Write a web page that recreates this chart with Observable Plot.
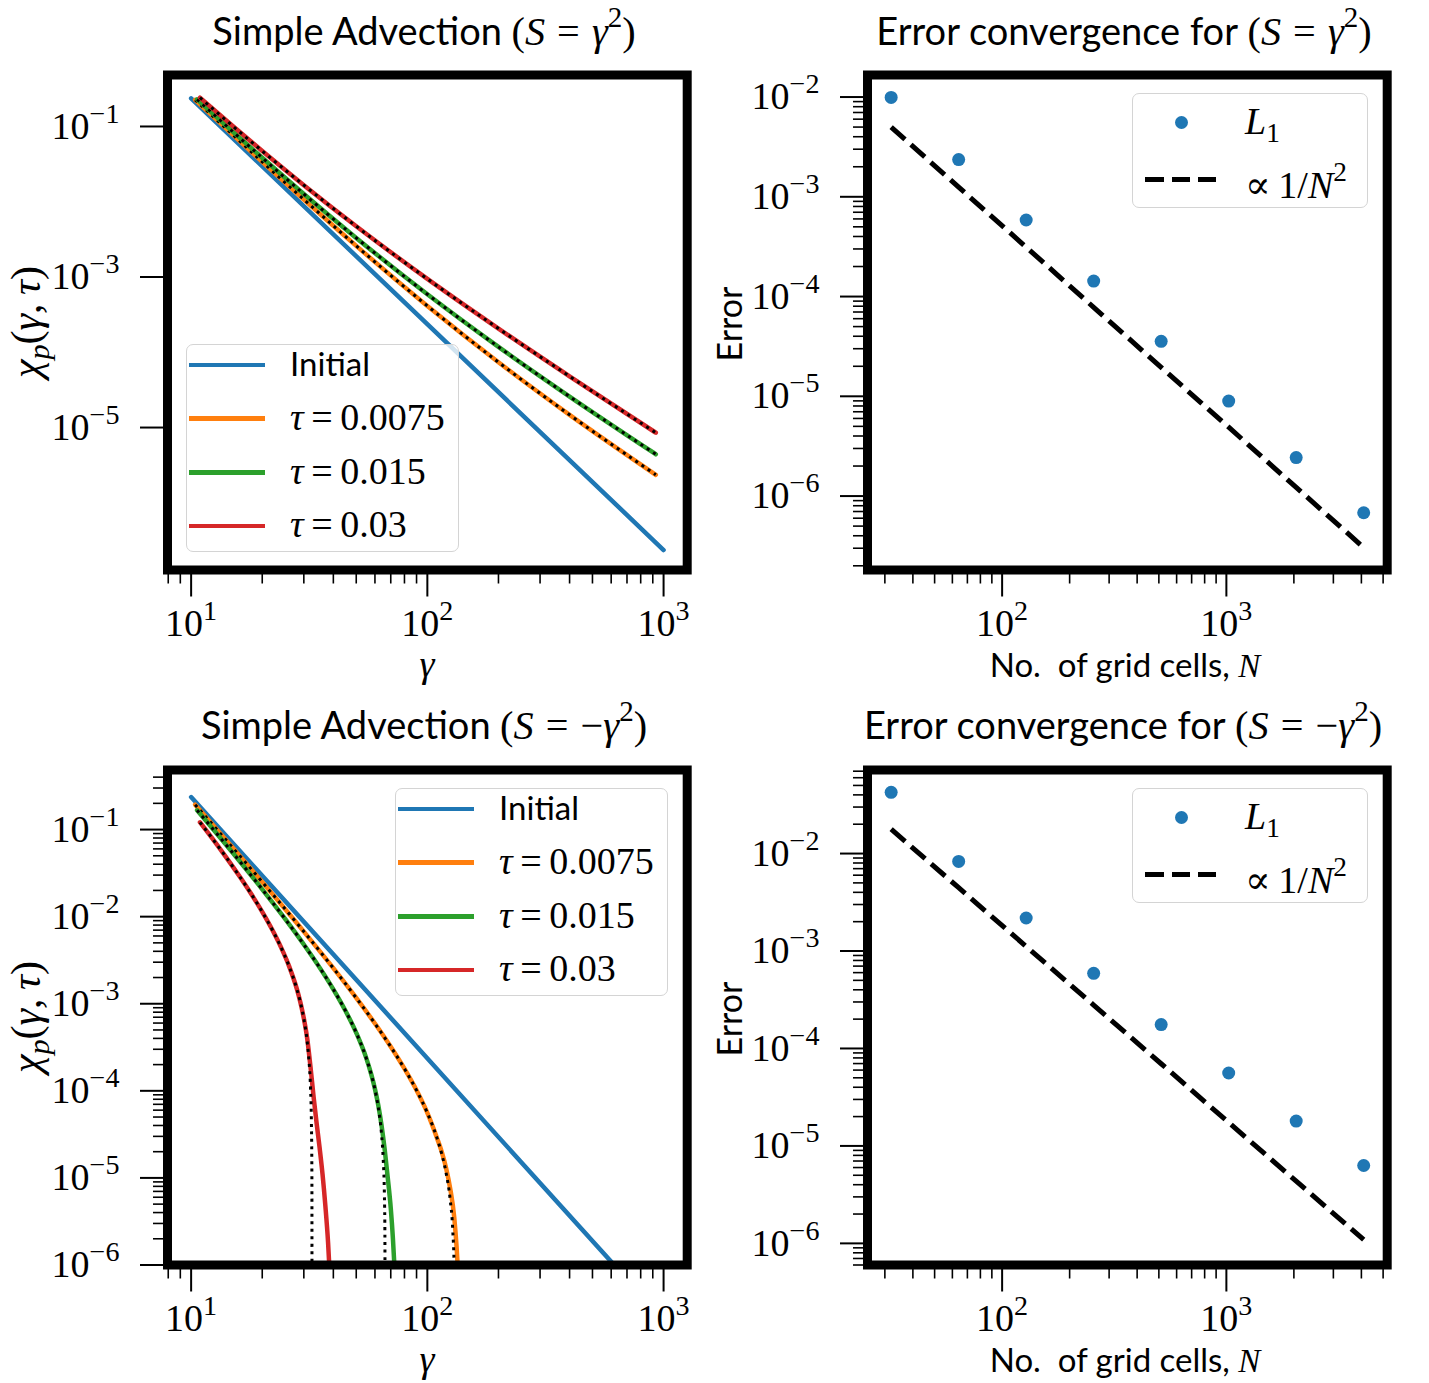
<!DOCTYPE html>
<html><head><meta charset="utf-8">
<script src="https://cdn.jsdelivr.net/npm/d3@7"></script>
<script src="https://cdn.jsdelivr.net/npm/@observablehq/plot@0.6"></script>
<style>
body{margin:0;background:#fff}
#fig{position:relative;width:1429px;height:1383px;background:#fff;overflow:hidden;font-family:"Liberation Serif","DejaVu Serif",serif;color:#000}
#fig svg{position:absolute}
.t{position:absolute;white-space:nowrap;line-height:1}
.sf{font-family:Lato,"Liberation Sans",sans-serif}
.rm{font-family:"Liberation Serif","DejaVu Serif",serif}
.leg{position:absolute;border:1.5px solid #d4d4d4;border-radius:7px;background:rgba(255,255,255,0.8);box-sizing:border-box}
.sup{font-size:0.72em;vertical-align:0.62em}
.sub{font-size:0.72em;vertical-align:-0.3em}
.eq{padding:0 0.3em}
.eqs{padding:0 0.2em}
</style></head><body><div id="fig"></div><script>
// ---------------- data ----------------
const colors = ["#1f77b4", "#ff7f0e", "#2ca02c", "#d62728"];
const tauLabels = ["0.0075", "0.015", "0.03"];

// Top-left: S = gamma^2
const tlInitG = [10, 1000];
const tlInitV = [0.236, 2.36e-7];
const tlOrangeG = [10.4, 15, 20, 30, 50, 100, 200, 400, 927];
const tlOrangeV = [0.2262, 0.0778, 0.0339, 0.01071, 0.002596, 4.13e-4, 7.375e-5, 1.475e-5, 2.356e-6];
const tlGreenG = [10.6, 15, 20, 30, 50, 100, 200, 400, 927];
const tlGreenV = [0.2297, 0.08566, 0.03835, 0.01267, 0.003304, 5.9e-4, 1.18e-4, 2.581e-5, 4.416e-6];
const tlRedG = [10.9, 15, 20, 30, 50, 100, 200, 400, 927];
const tlRedV = [0.2418, 0.1014, 0.0472, 0.01661, 0.00472, 9.44e-4, 2.065e-4, 4.794e-5, 8.536e-6];

// Bottom-left: S = -gamma^2
const blInitG = [10, 1000];
const blInitV = [0.236, 2.36e-7];
// analytic (dotted)
const blRedDotG = [10.9, 12, 14, 16, 18, 20, 22, 24, 26, 28, 29, 30, 31, 31.5, 32, 32.3, 32.45, 32.5];
const blRedDotV = [0.1211, 0.0862, 0.04895, 0.02925, 0.01806, 0.01135, 0.00716, 0.004465, 0.002686, 0.001489, 0.001042, 6.72e-4, 3.66e-4, 2.32e-4, 1.108e-4, 4.31e-5, 1.06e-5, 1e-8];
const blGreenDotG = [10.6, 12, 15, 20, 25, 30, 35, 40, 45, 50, 55, 58, 60, 62, 64, 65, 65.8, 66.1, 66.3];
const blGreenDotV = [0.1665, 0.1119, 0.0541, 0.0206, 0.009409, 0.004786, 0.002598, 0.001463, 8.32e-4, 4.64e-4, 2.42e-4, 1.514e-4, 1.038e-4, 6.42e-5, 3.12e-5, 1.685e-5, 6.25e-6, 2.47e-6, 1e-8];
const blOrangeDotG = [10.4, 12, 15, 20, 30, 40, 50, 60, 70, 80, 90, 100, 110, 115, 120, 125, 128, 130, 131];
const blOrangeDotV = [0.1931, 0.1241, 0.06192, 0.025, 0.00674, 0.002562, 0.001167, 5.92e-4, 3.204e-4, 1.794e-4, 1.013e-4, 5.584e-5, 2.842e-5, 1.895e-5, 1.147e-5, 5.53e-6, 2.58e-6, 8.2e-7, 1e-8];
// numerical (solid)
const blRedG = [10.9, 12, 14, 16, 18, 20, 22, 24, 26, 28, 29, 30, 31, 32, 33, 34, 35, 36, 37, 38, 38.6];
const blRedV = [0.1211, 0.0862, 0.04895, 0.02925, 0.01806, 0.01135, 0.00716, 0.004465, 0.002686, 0.001489, 0.001042, 6.8e-4, 4.0e-4, 1.9e-4, 8.5e-5, 4.2e-5, 2.2e-5, 1.1e-5, 4.8e-6, 1.8e-6, 8e-7];
const blGreenG = [10.6, 12, 15, 20, 25, 30, 35, 40, 45, 50, 55, 58, 60, 62, 64, 66, 68, 70, 71.5, 72.5, 73.2];
const blGreenV = [0.1665, 0.1119, 0.0541, 0.0206, 0.009409, 0.004786, 0.002598, 0.001463, 8.32e-4, 4.64e-4, 2.42e-4, 1.514e-4, 1.05e-4, 6.8e-5, 4.0e-5, 2.1e-5, 1.0e-5, 4.5e-6, 2.0e-6, 1.0e-6, 6e-7];
const blOrangeG = [10.4, 12, 15, 20, 30, 40, 50, 60, 70, 80, 90, 100, 110, 115, 120, 125, 130, 133, 135];
const blOrangeV = [0.1931, 0.1241, 0.06192, 0.025, 0.00674, 0.002562, 0.001167, 5.92e-4, 3.204e-4, 1.794e-4, 1.013e-4, 5.584e-5, 2.842e-5, 2.0e-5, 1.3e-5, 7.5e-6, 3.5e-6, 1.6e-6, 8e-7];

// Right: error convergence
const gridN = [32, 64, 128, 256, 512, 1024, 2048, 4096];
const trErr = [9.9e-3, 2.36e-3, 5.85e-4, 1.43e-4, 3.56e-5, 8.95e-6, 2.43e-6, 6.8e-7];
const trRef = [5.0e-3, 1.25e-3, 3.13e-4, 7.8e-5, 1.95e-5, 4.9e-6, 1.22e-6, 3.05e-7];
const brErr = [0.0425, 8.3e-3, 2.18e-3, 5.9e-4, 1.76e-4, 5.6e-5, 1.8e-5, 6.3e-6];
const brRef = [1.78e-2, 4.46e-3, 1.115e-3, 2.79e-4, 6.97e-5, 1.74e-5, 4.35e-6, 1.09e-6];

// ticks
const gammaTicks = [10, 100, 1000];
const gammaMinor = [8, 9, 20, 30, 40, 50, 60, 70, 80, 90, 200, 300, 400, 500, 600, 700, 800, 900];
const nTicks = [100, 1000];
const nMinor = [30, 40, 50, 60, 70, 80, 90, 200, 300, 400, 500, 600, 700, 800, 900, 2000, 3000, 4000, 5000];
const tlYTicks = [1e-1, 1e-3, 1e-5];
const decadeTicks = [1e-1, 1e-2, 1e-3, 1e-4, 1e-5, 1e-6];
const errYTicks = [1e-2, 1e-3, 1e-4, 1e-5, 1e-6];
const minorMult = [2, 3, 4, 5, 6, 7, 8, 9];
const minorDecades = [1e-7, 1e-6, 1e-5, 1e-4, 1e-3, 1e-2, 1e-1];

// ---------------- helpers ----------------
const fig = document.getElementById("fig");
const rows = (xs, ys) => xs.map((x, i) => ({x, y: ys[i]}));
const minorAll = minorDecades.flatMap(d => minorMult.map(m => +(m * d).toPrecision(3)));
const fmt = d => "10^" + Math.round(Math.log10(d));
const ns = "http://www.w3.org/2000/svg";

function supTicks(svg) {
  svg.querySelectorAll('g[aria-label$="tick label"] text').forEach(t => {
    const m = (t.textContent || "").match(/^10\^(.*)$/);
    if (!m) return;
    t.textContent = "";
    const a = document.createElementNS(ns, "tspan");
    a.textContent = "10";
    t.appendChild(a);
    const b = document.createElementNS(ns, "tspan");
    b.setAttribute("dy", "-0.57em");
    b.setAttribute("font-size", "0.74em");
    b.textContent = m[1].replace("-", "\u2212");
    t.appendChild(b);
  });
}

function panel({left, top, width, height, mL, mR, mT, mB, xDomain, yDomain, xMaj, xMin, yMaj, yMin, marks}) {
  const inX = v => v >= xDomain[0] && v <= xDomain[1];
  const inY = v => v >= yDomain[0] * 0.999 && v <= yDomain[1];
  const axes = [
    Plot.axisX({ticks: xMaj.filter(inX), tickSize: 27, tickPadding: 12, strokeWidth: 2, tickFormat: fmt, label: null}),
    Plot.axisX({ticks: xMin.filter(inX), tickSize: 14, strokeWidth: 1.6, tickFormat: () => "", label: null}),
    Plot.axisY({ticks: yMaj.filter(inY), tickSize: 27, tickPadding: 21, strokeWidth: 2, tickFormat: fmt, label: null})
  ];
  const ym = yMin.filter(inY);
  if (ym.length) axes.push(Plot.axisY({ticks: ym, tickSize: 14, strokeWidth: 1.6, tickFormat: () => "", label: null}));
  const svg = Plot.plot({
    width, height, marginLeft: mL, marginRight: mR, marginTop: mT, marginBottom: mB,
    x: {type: "log", domain: xDomain, label: null},
    y: {type: "log", domain: yDomain, label: null},
    style: {fontFamily: '"Liberation Serif", serif', fontSize: "38px", background: "transparent", overflow: "visible", color: "black"},
    marks: [...marks, Plot.frame({stroke: "black", strokeWidth: 9}), ...axes]
  });
  svg.style.left = left + "px";
  svg.style.top = top + "px";
  supTicks(svg);
  fig.appendChild(svg);
}

const solid = (xs, ys, c) => Plot.line(rows(xs, ys), {x: "x", y: "y", stroke: c, strokeWidth: 4.5, curve: "monotone-x", clip: true});
const dotted = (xs, ys) => Plot.line(rows(xs, ys), {x: "x", y: "y", stroke: "black", strokeWidth: 3, strokeDasharray: "3,4.5", strokeLinecap: "butt", curve: "monotone-x", clip: true});

const gDom = [7.943, 1258.9];
const nDom = [25.1, 5214];

// top-left
panel({left: 0, top: 0, width: 715, height: 695, mL: 167, mR: 28.3, mT: 74.5, mB: 125.5,
  xDomain: gDom, yDomain: [1.28e-7, 0.483], xMaj: gammaTicks, xMin: gammaMinor, yMaj: tlYTicks, yMin: [],
  marks: [
    solid(tlInitG, tlInitV, colors[0]),
    solid(tlOrangeG, tlOrangeV, colors[1]), dotted(tlOrangeG, tlOrangeV),
    solid(tlGreenG, tlGreenV, colors[2]), dotted(tlGreenG, tlGreenV),
    solid(tlRedG, tlRedV, colors[3]), dotted(tlRedG, tlRedV)
  ]});

// bottom-left
panel({left: 0, top: 695, width: 715, height: 688, mL: 167, mR: 28.3, mT: 74.5, mB: 118.5,
  xDomain: gDom, yDomain: [1e-6, 0.483], xMaj: gammaTicks, xMin: gammaMinor, yMaj: decadeTicks, yMin: minorAll,
  marks: [
    solid(blInitG, blInitV, colors[0]),
    solid(blOrangeG, blOrangeV, colors[1]), dotted(blOrangeDotG, blOrangeDotV),
    solid(blGreenG, blGreenV, colors[2]), dotted(blGreenDotG, blGreenDotV),
    solid(blRedG, blRedV, colors[3]), dotted(blRedDotG, blRedDotV)
  ]});

const errMarks = (err, ref) => [
  Plot.dot(rows(gridN, err), {x: "x", y: "y", r: 6.5, fill: colors[0], stroke: "none"}),
  Plot.line(rows(gridN, ref), {x: "x", y: "y", stroke: "black", strokeWidth: 5, strokeDasharray: "18.5,8", strokeLinecap: "butt"})
];

// top-right
panel({left: 700, top: 0, width: 729, height: 695, mL: 167, mR: 42.3, mT: 74.5, mB: 125.5,
  xDomain: nDom, yDomain: [1.815e-7, 0.01663], xMaj: nTicks, xMin: nMinor, yMaj: errYTicks, yMin: minorAll,
  marks: errMarks(trErr, trRef)});

// bottom-right
panel({left: 700, top: 695, width: 729, height: 688, mL: 167, mR: 42.3, mT: 74.5, mB: 118.5,
  xDomain: nDom, yDomain: [6.0e-7, 0.072], xMaj: nTicks, xMin: nMinor, yMaj: errYTicks, yMin: minorAll,
  marks: errMarks(brErr, brRef)});

// ---------------- text, titles, legends ----------------
// baseline-positioned text; k = distance from box top to baseline in em
function txt(html, x, baseline, {size = 36, anchor = "start", cls = "", k = 0.887, lh = null} = {}) {
  const d = document.createElement("div");
  d.className = "t " + cls;
  d.style.fontSize = size + "px";
  d.style.left = x + "px";
  if (lh !== null) d.style.lineHeight = lh;
  d.style.top = (baseline - k * size) + "px";
  if (anchor === "middle") d.style.transform = "translateX(-50%)";
  d.innerHTML = html;
  fig.appendChild(d);
  return d;
}
function vtxt(html, cx, cy, size = 36, cls = "") {
  const d = document.createElement("div");
  d.className = "t " + cls;
  d.style.fontSize = size + "px";
  d.style.left = cx + "px";
  d.style.top = cy + "px";
  d.style.transform = "translate(-50%,-50%) rotate(-90deg)";
  d.innerHTML = html;
  fig.appendChild(d);
}
function box(x, y, w, h) {
  const d = document.createElement("div");
  d.className = "leg";
  Object.assign(d.style, {left: x + "px", top: y + "px", width: w + "px", height: h + "px"});
  fig.appendChild(d);
}
function lineSample(x, y, w, color) {
  const d = document.createElement("div");
  Object.assign(d.style, {position: "absolute", left: x + "px", top: (y - 2.25) + "px", width: w + "px", height: "4.5px", background: color});
  fig.appendChild(d);
}
function dashSample(x, y, w) {
  const d = document.createElement("div");
  Object.assign(d.style, {position: "absolute", left: x + "px", top: (y - 2.5) + "px", width: w + "px", height: "5px",
    background: "repeating-linear-gradient(to right, #000 0 18.5px, transparent 18.5px 26.5px)"});
  fig.appendChild(d);
}
function dotSample(cx, cy) {
  const d = document.createElement("div");
  Object.assign(d.style, {position: "absolute", left: (cx - 6.5) + "px", top: (cy - 6.5) + "px", width: "13px", height: "13px", borderRadius: "50%", background: colors[0]});
  fig.appendChild(d);
}

const eqS = (neg) => `<span class="rm" style="font-size:1.06em">(<i>S</i><span class="eq">=</span>${neg ? "\u2212" : ""}<i>γ</i><span class="sup">2</span>)</span>`;
txt(`<span class="sf">Simple Advection</span> ${eqS(false)}`, 424, 37, {size: 38, anchor: "middle"});
txt(`<span class="sf">Simple Advection</span> ${eqS(true)}`, 424, 731, {size: 38, anchor: "middle"});
txt(`<span class="sf">Error convergence for</span> ${eqS(false)}`, 1124, 37, {size: 38, anchor: "middle"});
txt(`<span class="sf">Error convergence for</span> ${eqS(true)}`, 1123, 731, {size: 38, anchor: "middle"});

const chiLabel = `<i>χ</i><span class="sub"><i>p</i></span>(<i>γ</i>,&thinsp;<i>τ</i>)`;
vtxt(chiLabel, 30, 322, 42);
vtxt(chiLabel, 30, 1017, 42);
vtxt(`Error`, 729, 324, 34, "sf");
vtxt(`Error`, 729, 1019, 34, "sf");
// axis labels below the x tick labels: compact line boxes so they don't collide with tick labels
const kSerif = lh => (lh - 1.107) / 2 + 0.891;
const kLato = lh => (lh - 1.2) / 2 + 0.987;
txt(`<i>γ</i>`, 427, 677, {size: 38, anchor: "middle", lh: 0.4, k: kSerif(0.4)});
txt(`<i>γ</i>`, 427, 1372, {size: 38, anchor: "middle", lh: 0.4, k: kSerif(0.4)});
const nLabel = `No.&nbsp; of grid cells, <i class="rm">N</i>`;
txt(nLabel, 1125, 677, {size: 33, anchor: "middle", cls: "sf", lh: 0.7, k: kLato(0.7)});
txt(nLabel, 1125, 1372, {size: 33, anchor: "middle", cls: "sf", lh: 0.7, k: kLato(0.7)});

// left legends
function leftLegend(bx, by) {
  box(bx, by, 273, 208);
  const labels = [`<span class="sf" style="font-size:0.87em">Initial</span>`, ...tauLabels.map(t => `<i>τ</i><span class="eqs">=</span>${t}`)];
  labels.forEach((lab, i) => {
    const cy = by + 21 + i * 53.7;
    lineSample(bx + 3, cy, 76, colors[i]);
    txt(lab, bx + 104, cy + 13, {size: 38});
  });
}
leftLegend(186, 344);
leftLegend(395, 788);

function rightLegend(bx, by) {
  box(bx, by, 236, 115);
  dotSample(bx + 49, by + 29);
  txt(`<i>L</i><span class="sub">1</span>`, bx + 113, by + 43, {size: 38});
  dashSample(bx + 13, by + 86, 72);
  txt(`∝&thinsp;1/<i>N</i><span class="sup">2</span>`, bx + 113, by + 100, {size: 38});
}
rightLegend(1132, 93);
rightLegend(1132, 788);
</script></body></html>
